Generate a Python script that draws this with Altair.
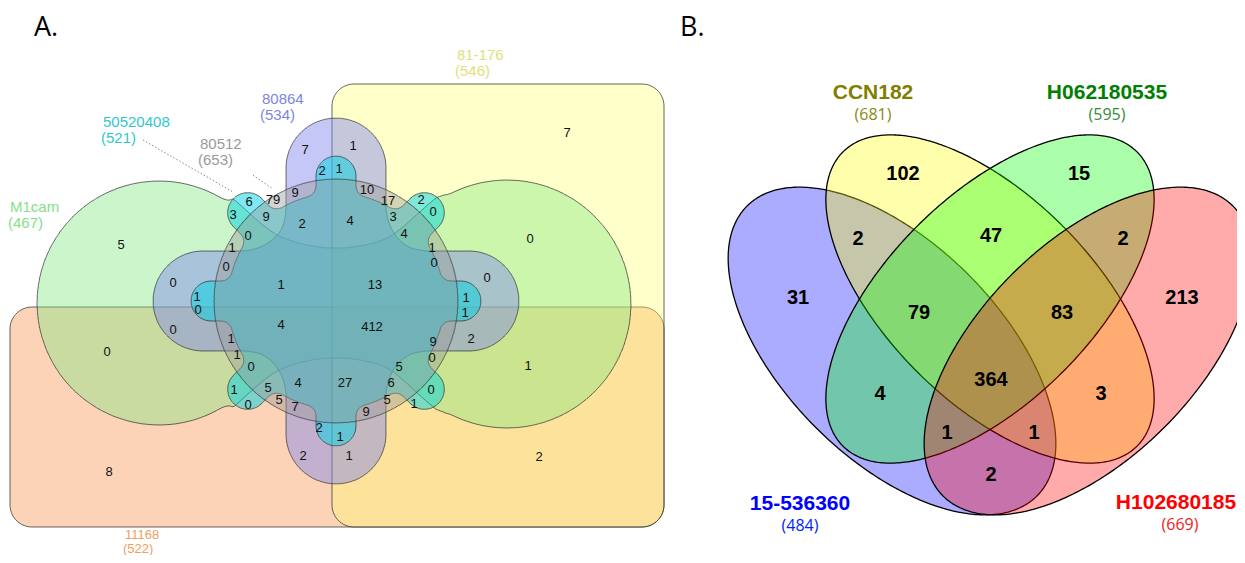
import numpy as np
import pandas as pd
import altair as alt

# ---------------- data: panel A (6-set Edwards Venn) ----------------
A_names = ["M1cam", "50520408", "80512", "80864", "81-176", "11168"]
A_sizes = [467, 521, 653, 534, 546, 522]
A_name_colors = ["#86e086", "#2ec8cc", "#9a9a9a", "#7b86e0", "#e2e07a", "#f0a060"]
A_name_x = [10, 103, 200, 262, 457, 125]
A_name_y = [207, 122, 144, 99, 55, 535]
A_name_size = [15, 15, 15, 15, 15, 13]
A_line_gap = [16, 16, 16, 16, 16, 13.5]

A_counts = [5, 7, 2, 1, 9, 79, 6, 3, 9, 2, 0, 1, 0, 0, 1,
            1, 10, 17, 2, 0, 3, 4, 4, 0, 7, 1, 0, 0, 13,
            1, 0, 0, 0, 4, 1, 1, 0, 1, 5, 4, 0, 5, 7, 2, 2, 8,
            1, 1, 412, 9, 2, 0, 1, 5, 27, 6, 0, 5, 1, 9, 1, 1, 2]
A_count_x = [121, 305, 322, 339, 295, 273, 249, 233, 266, 302, 248, 232, 226, 173, 281,
             353, 367, 388, 421, 433, 393, 350, 404, 530, 567, 432, 434, 487, 375,
             197, 198, 173, 107, 281, 231, 237, 251, 234, 268, 298, 248, 279, 295, 319, 303, 109,
             466, 465, 372, 433, 471, 432, 528, 399, 345, 391, 431, 387, 414, 366, 340, 349, 539]
A_count_y = [245, 150, 171, 169, 193, 200, 202, 215, 217, 224, 236, 248, 267, 283, 285,
             146, 190, 201, 200, 212, 217, 221, 234, 239, 133, 248, 263, 278, 285,
             297, 310, 330, 352, 325, 339, 355, 367, 390, 388, 383, 405, 400, 407, 428, 456, 472,
             298, 313, 327, 342, 339, 358, 366, 367, 383, 383, 390, 400, 404, 412, 437, 456, 457]

# ---------------- data: panel B (4-set ellipse Venn) ----------------
B_names = ["15-536360", "CCN182", "H062180535", "H102680185"]
B_sizes = [484, 681, 595, 669]
B_name_colors = ["#0000ff", "#808000", "#008000", "#ff0000"]
B_size_colors = ["#0022ff", "#8a8a10", "#3a8a3a", "#ee2222"]
B_name_x = [800, 873, 1107, 1176]
B_name_y = [504, 93, 93, 503]

B_counts = [102, 15, 2, 47, 2, 31, 79, 83, 213, 364, 4, 3, 1, 1, 2]
B_count_x = [903, 1079, 858, 991, 1123, 798, 919, 1062, 1182, 991, 880, 1101, 947, 1034, 991]
B_count_y = [174, 174, 239, 236, 239, 298, 313, 313, 298, 380, 394, 394, 433, 433, 475]

# ---------------- geometry helpers ----------------
CX, CY = 336, 301


def d_circle(X, Y, cx, cy, r):
    return np.hypot(X - cx, Y - cy) - r


def d_capsule(X, Y, ax, ay, bx, by, r):
    pax, pay = X - ax, Y - ay
    bax, bay = bx - ax, by - ay
    h = np.clip((pax * bax + pay * bay) / (bax * bax + bay * bay), 0, 1)
    return np.hypot(pax - bax * h, pay - bay * h) - r


def smin(a, b, k):
    h = np.clip(0.5 + 0.5 * (b - a) / k, 0, 1)
    return b * (1 - h) + a * h - k * h * (1 - h)


def outline(sdf, cx, cy, rmax=330, n=1440):
    th = np.linspace(0, 2 * np.pi, n, endpoint=False)
    r = np.arange(0, rmax, 0.25)
    X = cx + np.cos(th)[:, None] * r[None, :]
    Y = cy - np.sin(th)[:, None] * r[None, :]
    inside = sdf(X, Y) <= 0
    last = r.size - 1 - np.argmax(inside[:, ::-1], axis=1)
    rr = r[last]
    xs = cx + np.cos(th) * rr
    ys = cy - np.sin(th) * rr
    return list(xs) + [xs[0]], list(ys) + [ys[0]]


def sdf_green(X, Y):
    left = d_circle(X, Y, 159, 303, 122)
    right = d_circle(X, Y, 507, 304, 124)
    band = np.maximum.reduce([140 - np.hypot(X - CX, Y - 108),
                              140 - np.hypot(X - CX, Y - 498),
                              np.abs(X - CX) - 100,
                              np.abs(Y - 303) - 100])
    return smin(smin(left, band, 18), right, 18)


def sdf_purple(X, Y):
    d = d_circle(X, Y, CX, CY, 78)
    for ang in [0, 90, 180, 270]:
        c, s = np.cos(np.radians(ang)), np.sin(np.radians(ang))
        d = smin(d, d_capsule(X, Y, CX, CY, CX + 133 * c, CY - 133 * s, 50), 30)
    return d


def sdf_cyan(X, Y):
    d = d_circle(X, Y, CX, CY, 108)
    for k in range(8):
        c, s = np.cos(np.radians(45 * k)), np.sin(np.radians(45 * k))
        d = smin(d, d_capsule(X, Y, CX + 80 * c, CY - 80 * s,
                              CX + 125 * c, CY - 125 * s, 20), 10)
    return d


def sdf_gray(X, Y):
    return d_circle(X, Y, CX, CY, 122)


def rounded_rect(x0, y0, x1, y1, r, n=14):
    xs, ys = [], []
    for cx, cy, a0, a1 in [(x1 - r, y0 + r, -90, 0), (x1 - r, y1 - r, 0, 90),
                           (x0 + r, y1 - r, 90, 180), (x0 + r, y0 + r, 180, 270)]:
        t = np.radians(np.linspace(a0, a1, n))
        xs += list(cx + r * np.cos(t))
        ys += list(cy + r * np.sin(t))
    return xs + [xs[0]], ys + [ys[0]]


def ellipse(cx, cy, a, b, ang, n=400):
    t = np.linspace(0, 2 * np.pi, n)
    ca, sa = np.cos(np.radians(ang)), np.sin(np.radians(ang))
    x = cx + a * np.cos(t) * ca - b * np.sin(t) * sa
    y = cy + a * np.cos(t) * sa + b * np.sin(t) * ca
    return list(x), list(y)


def frame(xs, ys):
    return pd.DataFrame({"x": xs, "y": ys, "i": np.arange(len(xs))})


XS = alt.Scale(domain=[8, 1237])
YS = alt.Scale(domain=[8, 555], reverse=True)
Xe = alt.X("x:Q", scale=XS, axis=None)
Ye = alt.Y("y:Q", scale=YS, axis=None)


def poly(df, fill, fop, stroke="#333333", sw=1.0, sop=0.75):
    return alt.Chart(df).mark_line(fill=fill, fillOpacity=fop, stroke=stroke,
                                   strokeWidth=sw, strokeOpacity=sop, clip=True).encode(
        x=Xe, y=Ye, order="i:Q")


layers = []

# ---- panel A shapes (order: 11168, 81-176, M1cam, 80864, 50520408, 80512)
layers.append(poly(frame(*rounded_rect(10, 307, 664, 527, 22)), "#f9a870", 0.5))
layers.append(poly(frame(*rounded_rect(332, 84, 664, 527, 22)), "#ffff66", 0.35))
layers.append(poly(frame(*outline(sdf_green, CX, CY)), "#7ee87e", 0.4))
layers.append(poly(frame(*outline(sdf_purple, CX, CY)), "#7f86ee", 0.45))
layers.append(poly(frame(*outline(sdf_cyan, CX, CY)), "#00d2e1", 0.5))
layers.append(poly(frame(*outline(sdf_gray, CX, CY)), "#999999", 0.42))

# ---- panel B ellipses (blue, yellow, green, red)
for (cx, cy, a, b, ang), col in zip([(892, 351, 205, 108, 45), (990, 299, 208, 103, 45),
                                     (990, 299, 208, 103, 135), (1088, 351, 205, 108, 135)],
                                    ["#0000ff", "#ffff00", "#00ff00", "#ff0000"]):
    layers.append(poly(frame(*ellipse(cx, cy, a, b, ang)), col, 0.33,
                       stroke="#000000", sw=1.3, sop=1.0))

# ---- leader lines
lead = pd.DataFrame({"x": [143, 253], "y": [140, 175], "x2": [233, 273], "y2": [192, 189]})
layers.append(alt.Chart(lead).mark_rule(strokeDash=[1.5, 2], color="#888888", strokeWidth=1).encode(
    x=Xe, y=Ye, x2="x2:Q", y2="y2:Q"))

# ---- panel A counts
dA = pd.DataFrame({"x": A_count_x, "y": A_count_y, "t": [str(v) for v in A_counts]})
layers.append(alt.Chart(dA).mark_text(font="Liberation Sans", fontSize=13, color="#111111",
                                      align="center", baseline="middle").encode(
    x=Xe, y=Ye, text="t:N"))

# ---- panel A set labels
dAn = pd.DataFrame({"x": A_name_x, "y": A_name_y, "t": A_names, "c": A_name_colors,
                    "s": A_name_size})
dAs = pd.DataFrame({"x": [v - 2 for v in A_name_x],
                    "y": [v + g for v, g in zip(A_name_y, A_line_gap)],
                    "t": [f"({s})" for s in A_sizes], "c": A_name_colors, "s": A_name_size})
for d in (dAn, dAs):
    layers.append(alt.Chart(d).mark_text(font="Liberation Sans", align="left",
                                         baseline="middle").encode(
        x=Xe, y=Ye, text="t:N", color=alt.Color("c:N", scale=None),
        size=alt.Size("s:Q", scale=None)))

# ---- panel B counts
dB = pd.DataFrame({"x": B_count_x, "y": B_count_y, "t": [str(v) for v in B_counts]})
layers.append(alt.Chart(dB).mark_text(font="Liberation Sans", fontSize=20, fontWeight="bold",
                                      color="#000000", align="center", baseline="middle").encode(
    x=Xe, y=Ye, text="t:N"))

# ---- panel B set labels
dBn = pd.DataFrame({"x": B_name_x, "y": B_name_y, "t": B_names, "c": B_name_colors})
dBs = pd.DataFrame({"x": [800, 873, 1107, 1180], "y": [v + 22 for v in B_name_y],
                    "t": [f"({s})" for s in B_sizes], "c": B_size_colors})
layers.append(alt.Chart(dBn).mark_text(font="Liberation Sans", fontSize=21, fontWeight="bold",
                                       align="center", baseline="middle").encode(
    x=Xe, y=Ye, text="t:N", color=alt.Color("c:N", scale=None)))
layers.append(alt.Chart(dBs).mark_text(font="Open Sans", fontSize=16, align="center",
                                       baseline="middle").encode(
    x=Xe, y=Ye, text="t:N", color=alt.Color("c:N", scale=None)))

# ---- panel letters
dP = pd.DataFrame({"x": [34, 680], "y": [36, 36], "t": ["A.", "B."]})
layers.append(alt.Chart(dP).mark_text(font="Open Sans", fontSize=27, color="#000000",
                                      align="left", baseline="alphabetic").encode(
    x=Xe, y=Ye, text="t:N"))

chart = alt.layer(*layers).properties(
    width=1229, height=547, padding=0,
    autosize=alt.AutoSizeParams(type="none"),
).configure_view(stroke=None)

chart.save("out.html", embed_options={"renderer": "svg", "actions": False})
